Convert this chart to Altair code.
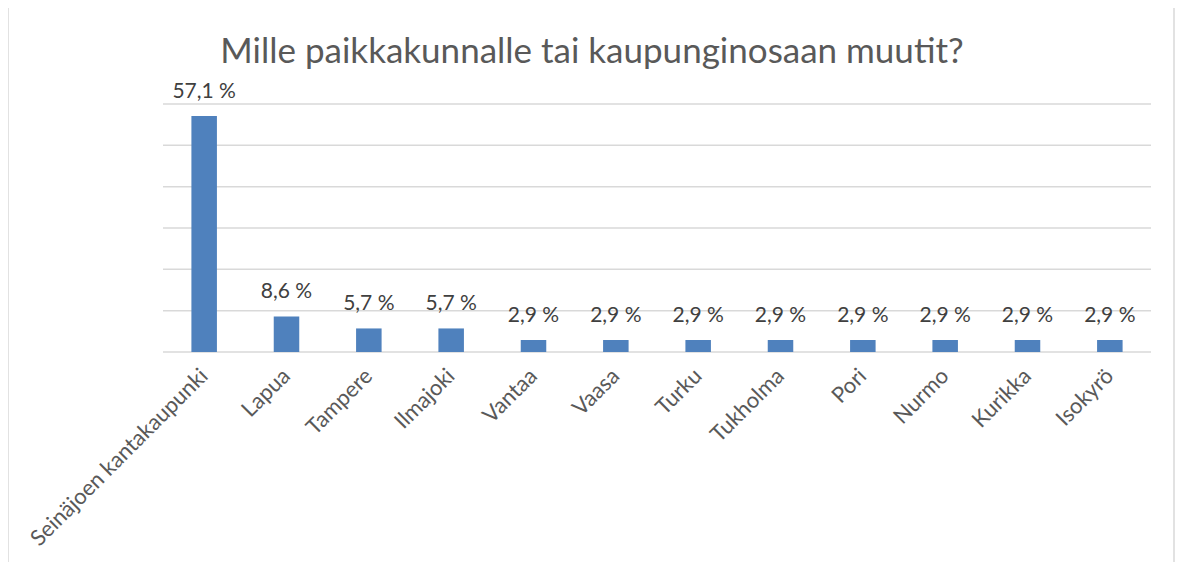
import altair as alt
import pandas as pd

categories = ["Seinäjoen kantakaupunki", "Lapua", "Tampere", "Ilmajoki", "Vantaa", "Vaasa",
              "Turku", "Tukholma", "Pori", "Nurmo", "Kurikka", "Isokyrö"]
values = [57.1, 8.6, 5.7, 5.7, 2.9, 2.9, 2.9, 2.9, 2.9, 2.9, 2.9, 2.9]
grid_values = [0, 10, 20, 30, 40, 50, 60]
title_text = "Mille paikkakunnalle tai kaupunginosaan muutit?"

df = pd.DataFrame({"paikka": categories, "osuus": values})
grid_df = pd.DataFrame({"g": grid_values})

FONT = "Lato"
W, H = 988, 248

base = alt.Chart(df).transform_calculate(
    label="replace(format(datum.osuus, '.1f'), '.', ',') + ' %'"
)

x = alt.X("paikka:N", sort=categories, title=None,
          scale=alt.Scale(paddingInner=0.69, paddingOuter=0.345),
          axis=alt.Axis(labelAngle=-45, labelAlign="right", labelBaseline="middle",
                        labelFontSize=22, labelColor="#595959", labelFont=FONT,
                        labelLimit=0,
                        ticks=False, domain=False,
                        labelPadding=20, grid=False))
yscale = alt.Scale(domain=[0, 60], nice=False)
y = alt.Y("osuus:Q", title=None, scale=yscale, axis=None)

grid = alt.Chart(grid_df).mark_rule(color="#d9d9d9", strokeWidth=1.5).encode(
    y=alt.Y("g:Q", scale=yscale, axis=None)
)

bars = base.mark_bar(color="#4F81BD").encode(x=x, y=y)

labels = base.mark_text(baseline="alphabetic", dy=-18, fontSize=21, font=FONT,
                        color="#404040").encode(
    x=alt.X("paikka:N", sort=categories),
    y="osuus:Q",
    text="label:N",
)

one = alt.Data(values=[{"k": 1}])
frame = alt.Chart(one).mark_rect(fillOpacity=0, stroke="#d9d9d9", strokeWidth=1.5).encode(
    x=alt.value(-155), x2=alt.value(1011), y=alt.value(-98), y2=alt.value(480)
)
title = alt.Chart(one).mark_text(fontSize=35, font=FONT, color="#595959",
                                 baseline="alphabetic", align="center").encode(
    x=alt.value(429), y=alt.value(-41), text=alt.value(title_text)
)

chart = alt.layer(frame, grid, bars, labels, title).properties(
    width=W, height=H,
    background="white",
    autosize=alt.AutoSizeParams(type="none"),
    padding={"left": 155, "top": 96, "right": 25, "bottom": 210},
).configure_view(strokeWidth=0, stroke="transparent")

chart.save("out.html", embed_options={"renderer": "svg", "actions": False})
